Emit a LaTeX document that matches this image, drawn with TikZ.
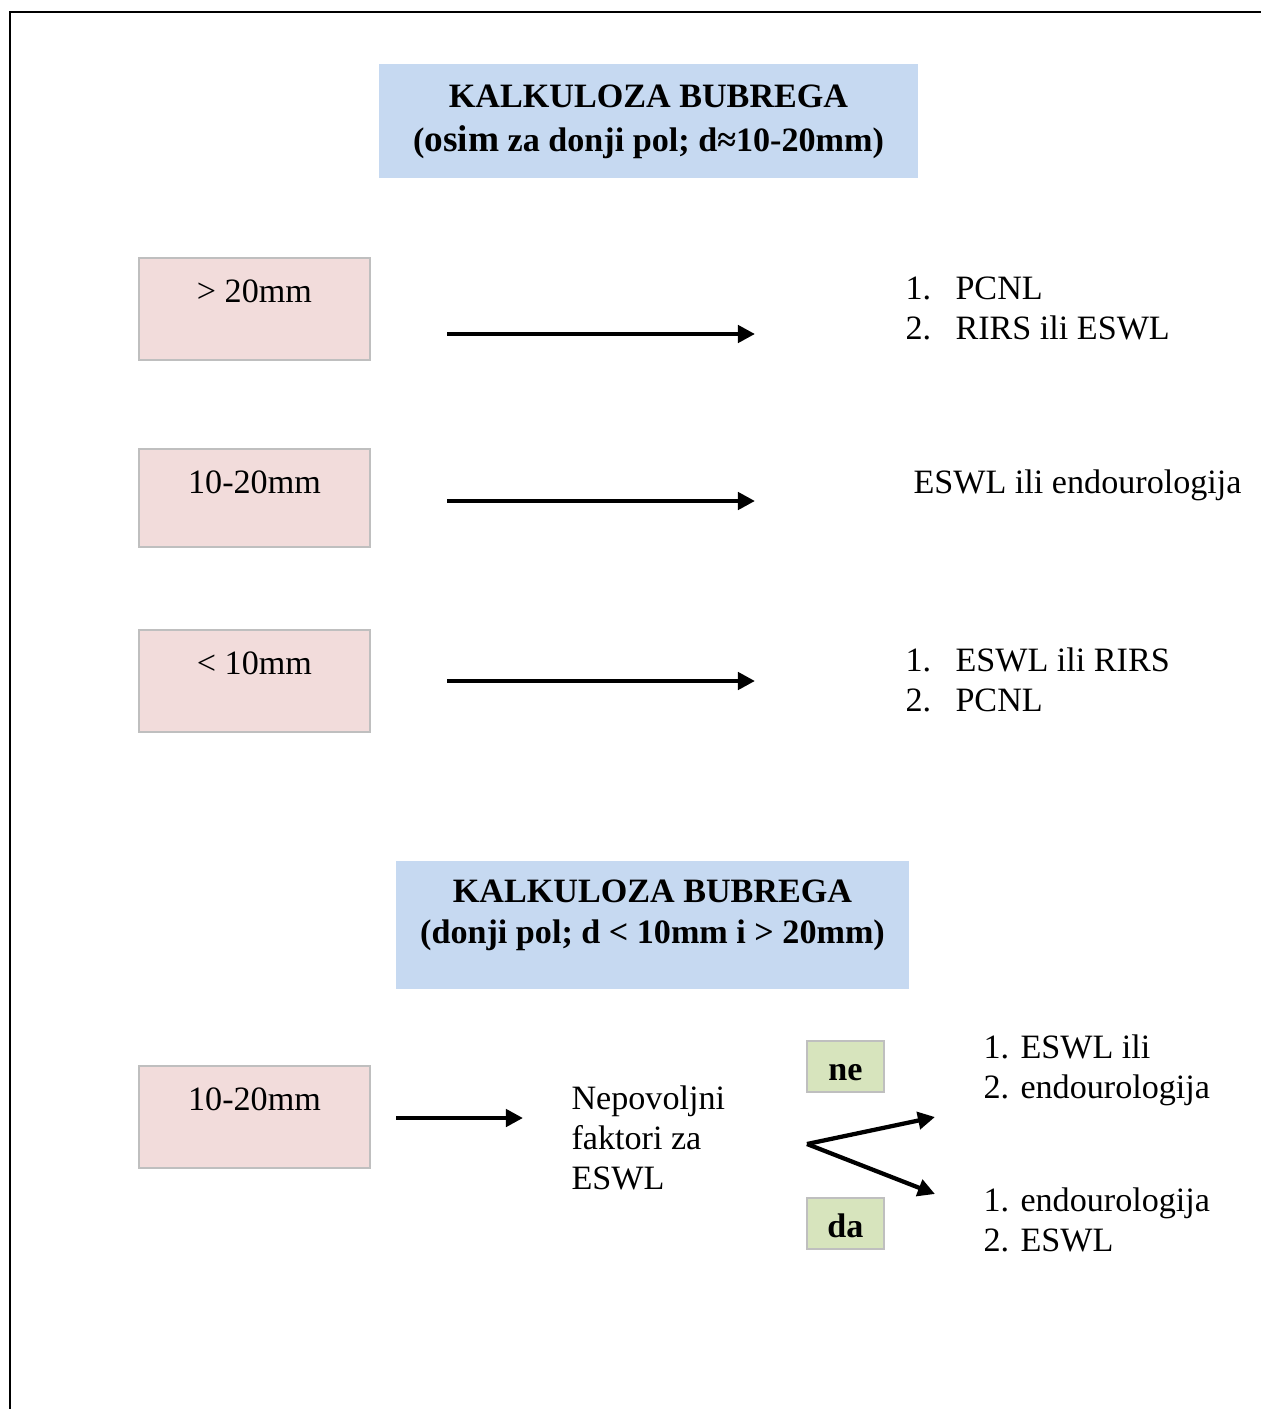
\documentclass[tikz,border=0pt]{standalone}
\usepackage{fontspec}
\setmainfont{Liberation Serif}
\usepackage{tikz}
\usetikzlibrary{arrows.meta,positioning}
\usepackage{xcolor}
\definecolor{StoneBlue}{HTML}{C6D9F1}
\definecolor{StonePink}{HTML}{F2DCDB}
\definecolor{StoneGreen}{HTML}{D7E4BD}
\definecolor{StoneGray}{HTML}{BFBFBF}
\newcommand\listno[1]{\makebox[18.75pt][l]{#1}}

\begin{document}
\begin{tikzpicture}[
    x=0.375pt,y=-0.375pt,
    font=\fontsize{12.8}{15}\selectfont,
    headbox/.style={fill=StoneBlue,inner sep=0pt},
    headtext/.style={anchor=north,align=center,inner sep=0pt,
      font=\fontsize{12.8}{#1}\selectfont\bfseries},
    sizebox/.style={draw=StoneGray,line width=0.75pt,fill=StonePink,
      minimum width=86.6pt,inner sep=0pt,text height=16.5pt,text depth=21.75pt,anchor=base},
    answer/.style={draw=StoneGray,line width=0.75pt,fill=StoneGreen,
      minimum width=28.9pt,inner sep=0pt,text height=14.8pt,text depth=4.4pt,anchor=base,
      font=\fontsize{12.8}{15}\selectfont\bfseries},
    list/.style={anchor=north west,align=left,inner sep=0pt},
    plain/.style={anchor=base west,inner sep=0pt},
    arr/.style={-{Triangle[length=6.4pt,width=6.4pt]},line width=1.6pt}
  ]
    \useasboundingbox (0,0) rectangle (1261,1409);
    \draw[line width=0.75pt] (9.7,1409) -- (9.7,11.7) -- (1261,11.7);

    \node[headbox,minimum width=202.1pt,minimum height=42.75pt] (upperhead) at (648.5,121) {};
    \node[headtext=16.5pt] (uppertitle) at (648.5,84)
      {KALKULOZA BUBREGA\\({\fontsize{14}{16.5}\selectfont osim} za donji pol; d≈10-20mm)};

    \node[sizebox] (over) at (254.5,302) {> 20mm};
    \node[list] (overres) at (905,276) {\listno{1.}PCNL\\\listno{2.}RIRS ili ESWL};
    \coordinate (overA) at (447,334);
    \coordinate (overB) at (755,334);
    \draw[arr] (overA) -- (overB);

    \node[sizebox,text depth=20.25pt] (mid) at (254.5,493) {10-20mm};
    \node[plain] (midres) at (913,493) {ESWL ili endourologija};
    \coordinate (midA) at (447,501);
    \coordinate (midB) at (755,501);
    \draw[arr] (midA) -- (midB);

    \node[sizebox] (under) at (254.5,674) {< 10mm};
    \node[list] (underres) at (905,647.5) {\listno{1.}ESWL ili RIRS\\\listno{2.}PCNL};
    \coordinate (underA) at (447,681);
    \coordinate (underB) at (755,681);
    \draw[arr] (underA) -- (underB);

    \node[headbox,minimum width=192.4pt,minimum height=48pt] (lowerhead) at (652.5,925) {};
    \node[headtext=15.4pt] (lowertitle) at (652.5,879.5)
      {KALKULOZA BUBREGA\\(donji pol; d < 10mm i > 20mm)};

    \node[sizebox] (pole) at (254.5,1110) {10-20mm};
    \coordinate (poleA) at (396,1118);
    \coordinate (poleB) at (523,1118);
    \draw[arr] (poleA) -- (poleB);
    \node[list] (factors) at (571,1085.5) {Nepovoljni\\faktori za\\ESWL};

    \node[answer] (no) at (845.5,1080) {ne};
    \node[answer] (yes) at (845.5,1237) {da};
    \coordinate (fork) at (807,1144);
    \coordinate (forkno) at (935,1117);
    \coordinate (forkyes) at (935,1194);
    \draw[arr] (fork) -- (forkno);
    \draw[arr] (fork) -- (forkyes);
    \node[list] (nores) at (983,1034.5) {1. ESWL ili\\2. endourologija};
    \node[list] (yesres) at (983,1187.5) {1. endourologija\\2. ESWL};
  \end{tikzpicture}
\end{document}
